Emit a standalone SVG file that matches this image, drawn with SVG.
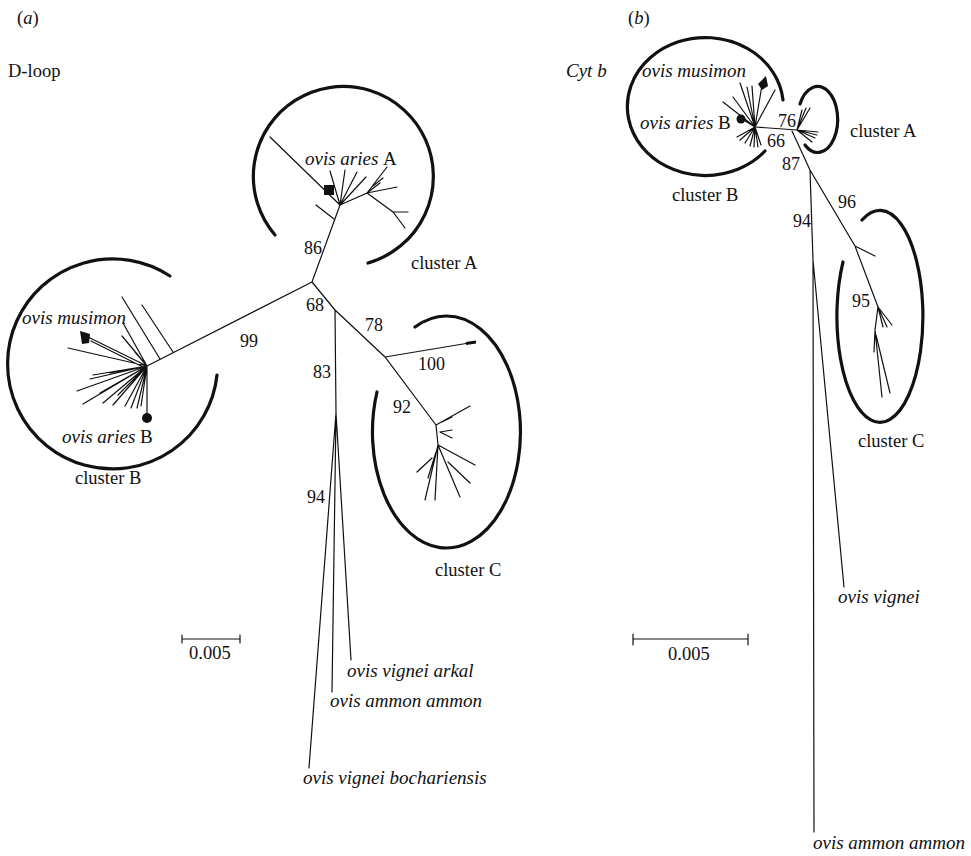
<svg xmlns="http://www.w3.org/2000/svg" width="971" height="856" viewBox="0 0 971 856" font-family="'Liberation Serif', Tinos, 'Nimbus Roman', 'Nimbus Roman No9 L', FreeSerif, 'DejaVu Serif', Times, serif">
<style>
  text { font-family: "Liberation Serif", Tinos, "Nimbus Roman", "Nimbus Roman No9 L", FreeSerif, "DejaVu Serif", "Noto Serif", Times, serif; font-size: 18.5px; fill: #111; }
  .it { font-style: italic; font-size: 19px; }
  .num { font-size: 18px; }
  .br { fill: none; stroke: #111; stroke-width: 1.2; stroke-linecap: round; }
  .cl { fill: none; stroke: #111; stroke-width: 3.2; stroke-linecap: round; }
  .mk { fill: #111; stroke: none; }
</style>
<rect width="971" height="856" fill="#fff"/>

<!-- Panel a -->
<g id="panel-a">
  <text x="17" y="24">(<tspan font-style="italic">a</tspan>)</text>
  <text x="8" y="77">D-loop</text>

  <g id="a-connectors">
    <path class="br" d="M147,366 L312,282 M312,282 L340,205 M312,282 L335,310 L385,357 L436,425 M385,357 L475,342 M335,310 L336,413 M336,413 L351,660 M336,413 L332,692 M336,413 L309,768"/>
    <path fill="none" stroke="#111" stroke-width="3" d="M466,343.5 L476,342"/>
  </g>

  <g id="a-clusterA">
    <path class="cl" d="M275,235 A90,90 0 1 1 368,263"/>
    <path class="br" d="M270,137 L340,205 M340,205 L330,171 M340,205 L345,170 M340,205 L357,172 M341,204 L366,177 M340,205 L367,193 L387,167 M367,193 L397,187 M367,193 L380,183 M373,186 L383,178 M367,193 L393,212 L405,228 M393,212 L408,212 M316,205 L334,219"/>
    <rect class="mk" x="324" y="185" width="10" height="10"/>
    <text class="it" x="305" y="165">ovis aries <tspan font-style="normal">A</tspan></text>
    <text x="411" y="269">cluster A</text>
  </g>

  <g id="a-clusterB">
    <path class="cl" d="M170,276 A105,105 0 1 0 217,375"/>
    <path class="br" d="M122,297 L160,359 M142,305 L173,352 M147,366 L88,337 M147,369 L91,341 M147,366 L68,348 M147,366 L123,323 M147,366 L122,336 M147,366 L93,375 M147,366 L77,391 M147,366 L83,404 M147,366 L103,403 M147,366 L113,405 M147,366 L125,406 M147,366 L131,408 M147,366 L137,408 M147,366 L141,406 M147,366 L110,373 M147,366 L90,379 M147,366 L100,393 M147,366 L118,395 M147,366 L147,414 M147,366 L135,352"/>
    <path class="mk" d="M80,331 L90,334 L89,343 L82,344 Z"/>
    <circle class="mk" cx="147" cy="418" r="5"/>
    <text class="it" x="22" y="324">ovis musimon</text>
    <text class="it" x="62" y="443">ovis aries <tspan font-style="normal">B</tspan></text>
    <text x="75" y="484">cluster B</text>
  </g>

  <g id="a-clusterC">
    <path class="cl" d="M415,327 A74,116 0 1 1 377,392"/>
    <path class="br" d="M436,425 L470,406 M442,422 L452,417 M440,432 L452,430 M440,432 L452,438 M436,425 L438,445 M438,445 L475,465 M438,445 L425,500 M438,445 L435,500 M438,445 L460,497 M448,462 L470,483 M432,458 L417,472 M436,452 L428,478"/>
    <text x="435" y="576">cluster C</text>
  </g>

  <g id="a-labels">
    <text class="num" x="304" y="254">86</text>
    <text class="num" x="240" y="347">99</text>
    <text class="num" x="306" y="311">68</text>
    <text class="num" x="365" y="331">78</text>
    <text class="num" x="418" y="370">100</text>
    <text class="num" x="393" y="413">92</text>
    <text class="num" x="313" y="378">83</text>
    <text class="num" x="307" y="503">94</text>
    <text class="it" x="347" y="677">ovis vignei arkal</text>
    <text class="it" x="330" y="707">ovis ammon ammon</text>
    <text class="it" x="303" y="784">ovis vignei bochariensis</text>
  </g>

  <g id="a-scale">
    <path class="br" d="M182,639 L240,639 M182,635 L182,643 M240,635 L240,643"/>
    <text x="189" y="659">0.005</text>
  </g>
</g>

<!-- Panel b -->
<g id="panel-b">
  <text x="628" y="24">(<tspan font-style="italic">b</tspan>)</text>
  <text class="it" x="566" y="77">Cyt b</text>

  <g id="b-connectors">
    <path class="br" d="M755,127 L797,130 M792,131 L810,170 L855,246 L878,307 M855,246 L875,256 M810,170 L813,260 L814,832 M813,260 L844,587"/>
  </g>

  <g id="b-clusterB">
    <path class="cl" d="M783,100 A78,69 0 1 0 765,151"/>
    <path class="br" d="M755,127 L740,83 M755,127 L747,87 M755,127 L752,86 M755,127 L762,85 M755,127 L775,90 M755,127 L723,102 M755,127 L733,97 M755,127 L742,119 M755,127 L737,137 M755,127 L740,140 M755,127 L745,143 M755,127 L750,146 M755,127 L754,147 M755,127 L758,147 M755,127 L761,145"/>
    <path class="mk" d="M758,84 L766,76 L768,86 L762,90 Z"/>
    <circle class="mk" cx="741" cy="119" r="4.5"/>
    <text class="it" x="642" y="77">ovis musimon</text>
    <text class="it" x="640" y="129">ovis aries <tspan font-style="normal">B</tspan></text>
    <text x="672" y="201">cluster B</text>
  </g>

  <g id="b-clusterA">
    <path class="cl" d="M800,104 A20,33 0 1 1 805,145"/>
    <path class="br" d="M797,130 L810,108 M797,130 L806,108 M797,130 L802,110 M797,130 L818,132 M797,130 L817,135 M797,130 L815,138 M797,130 L812,142"/>
    <text x="850" y="137">cluster A</text>
  </g>

  <g id="b-clusterC">
    <path class="cl" d="M862,220 A43,106 0 1 1 843,262"/>
    <path class="br" d="M878,307 L892,325 M878,307 L887,327 M878,307 L883,327 M878,307 L875,330 L882,397 M876,335 L890,393 M875,330 L874,352"/>
    <text x="858" y="447">cluster C</text>
  </g>

  <g id="b-labels">
    <text class="num" x="778" y="127">76</text>
    <text class="num" x="767" y="147">66</text>
    <text class="num" x="782" y="170">87</text>
    <text class="num" x="793" y="227">94</text>
    <text class="num" x="838" y="208">96</text>
    <text class="num" x="852" y="307">95</text>
    <text class="it" x="838" y="603">ovis vignei</text>
    <text class="it" x="813" y="849">ovis ammon ammon</text>
  </g>

  <g id="b-scale">
    <path class="br" d="M633,639 L748,639 M633,634 L633,645 M748,634 L748,645"/>
    <text x="668" y="660">0.005</text>
  </g>
</g>
</svg>
